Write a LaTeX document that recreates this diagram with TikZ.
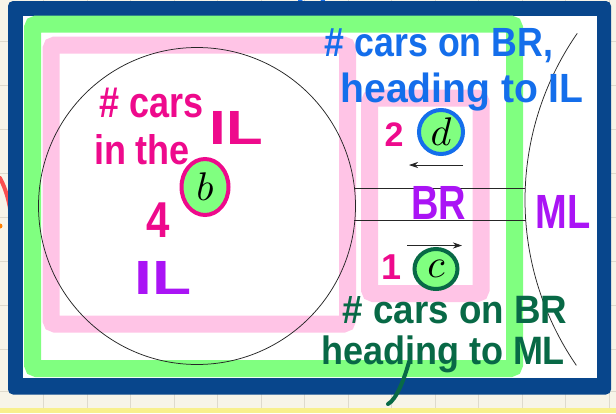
\documentclass[tikz,border=0pt]{standalone}
\usepackage{fontspec}
\setmainfont{Liberation Sans}
\usetikzlibrary{shapes.geometric,arrows.meta}
\definecolor{frameblue}{RGB}{8,70,140}
\definecolor{hlgreen}{RGB}{128,255,128}
\definecolor{hlpink}{RGB}{255,196,230}
\definecolor{penblue}{RGB}{20,110,235}
\definecolor{penmag}{RGB}{238,10,140}
\definecolor{penpurple}{RGB}{170,20,245}
\definecolor{pengreen}{RGB}{8,105,70}
\definecolor{paper}{RGB}{247,244,232}
\definecolor{gridc}{RGB}{222,218,205}
\definecolor{stripyellow}{RGB}{248,240,140}
\definecolor{penred}{RGB}{250,80,80}
\newcommand\hw[3][1]{\scalebox{#1}[#2]{#3}}
\newcommand\bigletter[1]{\scalebox{4}{$#1$}}
\tikzset{
  hand/.style={font=\fontsize{#1}{#1}\selectfont\bfseries, inner sep=0pt},
  hand/.default=30,
  hlbox/.style={line width=17pt, rounded corners=4pt},
  letter/.style={inner sep=0pt},
  thinline/.style={line width=0.75pt, black!85},
}
\begin{document}
\begin{tikzpicture}[x=1pt,y=-1pt]
\useasboundingbox (0,0) rectangle (616,413);
% paper background
\fill[paper] (0,0) rectangle (616,413);
\foreach \gx in {43.5,87,130.5,174,217.5,261,304.5,348,391.5,435,478.5,522,565.5,609}
  \draw[gridc, line width=0.8pt] (\gx,0) -- (\gx,413);
\foreach \gy in {41,85,129,173,217,261,305,349,391}
  \draw[gridc, line width=0.8pt] (0,\gy) -- (616,\gy);
\fill[stripyellow] (0,408) rectangle (616,413);
% stray strokes outside the frame
\draw[penred, line width=4pt, line cap=round] (0,178) .. controls (9,195) and (12,215) .. (12,232);
\fill[orange] (0,226) circle (2.5pt);
\draw[penblue, line width=4pt, line cap=round] (300,0) .. controls (303,12) and (320,15) .. (323,0);
% blue frame
\fill[frameblue, rounded corners=5pt] (8,1) rectangle (611,394.5);
\fill[white] (23,15.5) rectangle (597,378);
% highlighter boxes
\draw[hlgreen, hlbox] (32.5,24) rectangle (514.5,368.5);
\draw[hlpink, hlbox] (51,45) rectangle (347.5,324);
\draw[hlpink, hlbox] (369.5,98) rectangle (481,293.5);
% island circle
\node[circle, draw=black!85, line width=0.75pt, minimum size=317pt, inner sep=0pt] (ILc) at (197,206) {};
% mainland arc
\draw[thinline] plot[domain=145.5:214.8, samples=80] ({817+292*cos(\x)},{200+292*sin(\x)});
% bridge
\coordinate (br1a) at (354,188.7);
\coordinate (br1b) at (525.2,188.7);
\coordinate (br2a) at (354.4,220.3);
\coordinate (br2b) at (525.7,220.3);
\draw[thinline] (br1a) -- (br1b);
\draw[thinline] (br2a) -- (br2b);
% direction arrows
\coordinate (up1) at (463,165);
\coordinate (up2) at (409,165);
\coordinate (lo1) at (407,245.5);
\coordinate (lo2) at (462,245.5);
\draw[thinline, -{Stealth[length=9pt,width=6pt]}] (up1) -- (up2);
\draw[thinline, -{Stealth[length=9pt,width=6pt]}] (lo1) -- (lo2);
% variable nodes
\node[ellipse, draw=penmag, line width=4pt, fill=hlgreen, minimum width=47pt, minimum height=56pt, inner sep=0pt, letter] (b) at (205,187) {\bigletter{b}};
\node[circle, draw=penblue, line width=4pt, fill=hlgreen, minimum size=44pt, inner sep=0pt, letter] (d) at (441,132) {\bigletter{d}};
\node[ellipse, draw=pengreen, line width=4pt, fill=hlgreen, minimum width=43pt, minimum height=40pt, inner sep=0pt, letter] (c) at (436,269) {\bigletter{c}};
% handwritten labels
\node[hand=34, text=penblue] (t1) at (439,46) {\hw[1.05]{1.2}{\# cars on BR,}};
\node[hand=34, text=penblue] (t2) at (462,92) {\hw[1.15]{1.2}{heading to IL}};
\node[hand=36, text=penmag] (t3) at (152,103) {\hw{1.2}{\# cars}};
\node[hand=36, text=penmag] (t4) at (142,150) {\hw{1.15}{in the}};
\node[hand=40, text=penmag] (t5) at (236,128) {\hw[1.5]{1.2}{IL}};
\node[hand=42, text=penmag] (n4) at (158,220) {\hw{1.2}{4}};
\node[hand=34, text=penmag] (n2) at (394,135) {2};
\node[hand=36, text=penmag] (n1) at (392,267) {1};
\node[hand=40, text=penpurple] (lIL) at (163,278) {\hw[1.6]{1.2}{IL}};
\node[hand=40, text=penpurple] (lBR) at (439,203) {\hw[0.95]{1.2}{BR}};
\node[hand=40, text=penpurple] (lML) at (563,212) {\hw[0.95]{1.2}{ML}};
\node[hand=36, text=pengreen] (t6) at (455,310) {\hw[1.02]{1.1}{\# cars on BR}};
\node[hand=36, text=pengreen] (t7) at (443,354) {\hw[1.0]{1.1}{heading to ML}};
\draw[pengreen, line width=4pt, line cap=round] (409,362) .. controls (404,380) and (396,400) .. (388,404);
\end{tikzpicture}
\end{document}
